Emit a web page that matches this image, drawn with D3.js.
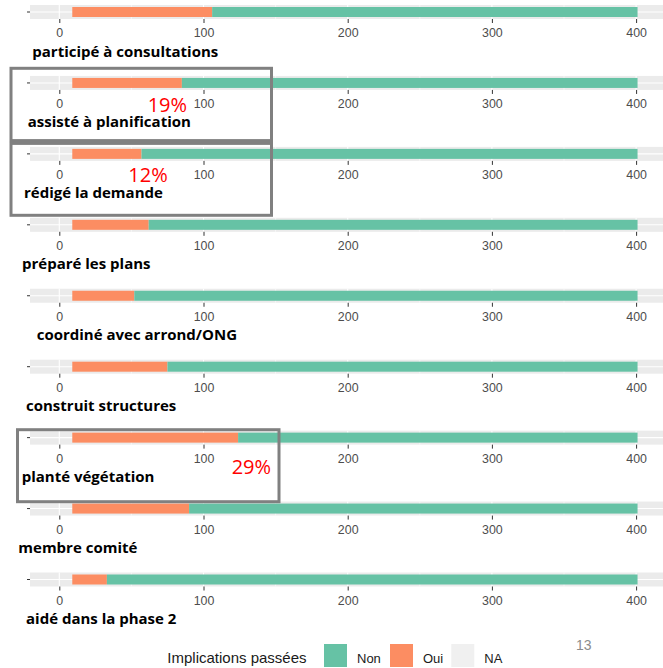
<!DOCTYPE html>
<html>
<head>
<meta charset="utf-8">
<script src="https://cdn.jsdelivr.net/npm/d3@7/dist/d3.min.js"></script>
<style>
  html, body { margin: 0; padding: 0; background: #fff; }
  svg { display: block; }
</style>
</head>
<body>
<svg id="chart" width="663" height="668"></svg>
<script>
// ---- data ----
const categories = [
  "participé à consultations",
  "assisté à planification",
  "rédigé la demande",
  "préparé les plans",
  "coordiné avec arrond/ONG",
  "construit structures",
  "planté végétation",
  "membre comité",
  "aidé dans la phase 2"
];
const naValues  = [9, 9, 9, 9, 9, 9, 9, 9, 9];
const ouiValues = [97, 76, 48, 53, 43, 66, 115, 81, 24];
const nonValues = [295, 316, 344, 339, 349, 326, 277, 311, 368];
const xTicks = [0, 100, 200, 300, 400];
const xMinor = [50, 150, 250, 350];
const legendTitle = "Implications passées";
const legendKeys = ["Non", "Oui", "NA"];
const annotationPanels = [1, 2, 6];
const annotationTexts = ["19%", "12%", "29%"];
const pageNumber = "13";

// ---- layout / style ----
const colors = { Non: "#66C2A5", Oui: "#FC8D62", NA: "#F0F0F0" };
const labelX = [32.3, 27.7, 24, 22, 36.7, 26, 21.7, 18.3, 26];
const annoPos = [[147.7, 112], [128.3, 181.7], [231.7, 474]];
const boxes = [[11, 68.3, 271.5, 140.6], [11, 143.4, 271.5, 215.3], [17.5, 429.7, 279, 501.7]];

const svg = d3.select("#chart");
const W = 663;

const x = d3.scaleLinear().domain([0, 400]).range([59.3, 636.1]);
const panelLeft = x(-20.3);

const yPanel = d3.scalePoint().domain(d3.range(categories.length)).range([12, 579.5]);

const rows = categories.map((c, i) => ({ cat: c, NA: naValues[i], Oui: ouiValues[i], Non: nonValues[i] }));
const stack = d3.stack().keys(["NA", "Oui", "Non"]);
const series = stack(rows);

const bandH = 14, barH = 10;

categories.forEach((cat, i) => {
  const cy = yPanel(i);
  const g = svg.append("g");
  g.append("rect")
    .attr("x", panelLeft).attr("y", cy - bandH / 2)
    .attr("width", W - panelLeft).attr("height", bandH)
    .attr("fill", "#EBEBEB");
  g.selectAll("line.minor").data(xMinor).enter().append("line")
    .attr("x1", d => x(d)).attr("x2", d => x(d))
    .attr("y1", cy - bandH / 2).attr("y2", cy + bandH / 2)
    .attr("stroke", "#fff").attr("stroke-width", 0.55);
  g.selectAll("line.major").data(xTicks).enter().append("line")
    .attr("x1", d => x(d)).attr("x2", d => x(d))
    .attr("y1", cy - bandH / 2).attr("y2", cy + bandH / 2)
    .attr("stroke", "#fff").attr("stroke-width", 1.1);
  g.append("line")
    .attr("x1", panelLeft).attr("x2", W)
    .attr("y1", cy).attr("y2", cy)
    .attr("stroke", "#fff").attr("stroke-width", 1.1);
  series.forEach(s => {
    const seg = s[i];
    g.append("rect")
      .attr("x", x(seg[0])).attr("width", x(seg[1]) - x(seg[0]))
      .attr("y", cy - barH / 2).attr("height", barH)
      .attr("fill", colors[s.key])
      .attr("fill-opacity", s.key === "NA" ? 0 : 1);
  });
  const ax = g.append("g")
    .attr("transform", `translate(0,${cy + bandH / 2})`)
    .call(d3.axisBottom(x).tickValues(xTicks).tickSize(4).tickPadding(5.5));
  ax.select(".domain").remove();
  ax.selectAll(".tick line").attr("stroke", "#333").attr("stroke-width", 1);
  ax.selectAll(".tick text")
    .attr("fill", "#4D4D4D")
    .style("font-family", "'Liberation Sans', Arial, sans-serif")
    .style("font-size", "12.4px");
  const yb = d3.scaleBand().domain(["-"]).range([cy - bandH / 2, cy + bandH / 2]);
  const ay = g.append("g")
    .attr("transform", `translate(${panelLeft},0)`)
    .call(d3.axisLeft(yb).tickSize(3).tickFormat(""));
  ay.select(".domain").remove();
  ay.selectAll(".tick line").attr("stroke", "#333").attr("stroke-width", 1);
  g.append("text")
    .attr("x", labelX[i]).attr("y", cy + 44.5)
    .attr("fill", "#000")
    .style("font-family", "'Open Sans', sans-serif")
    .style("font-weight", "700")
    .style("font-size", "15px")
    .text(cat);
});

boxes.forEach(b => {
  svg.append("rect")
    .attr("x", b[0]).attr("y", b[1])
    .attr("width", b[2] - b[0]).attr("height", b[3] - b[1])
    .attr("fill", "none").attr("stroke", "#808080").attr("stroke-width", 3);
});
annotationTexts.forEach((t, k) => {
  svg.append("text")
    .attr("x", annoPos[k][0]).attr("y", annoPos[k][1])
    .attr("fill", "#FF0000")
    .style("font-family", "'Open Sans', sans-serif")
    .style("font-size", "20px")
    .text(t);
});

svg.append("text")
  .attr("x", 576).attr("y", 649.5)
  .attr("fill", "#8C8C8C")
  .style("font-family", "'Liberation Sans', Arial, sans-serif")
  .style("font-size", "14px")
  .text(pageNumber);

const lg = svg.append("g");
lg.append("text")
  .attr("x", 167.3).attr("y", 663)
  .attr("fill", "#1A1A1A")
  .style("font-family", "'Liberation Sans', Arial, sans-serif")
  .style("font-size", "15px")
  .text(legendTitle);
const keyX = [324, 390, 451.3];
legendKeys.forEach((k, j) => {
  lg.append("rect")
    .attr("x", keyX[j]).attr("y", 644)
    .attr("width", 23).attr("height", 23)
    .attr("fill", colors[k]);
  lg.append("text")
    .attr("x", keyX[j] + 33).attr("y", 663)
    .attr("fill", "#1A1A1A")
    .style("font-family", "'Liberation Sans', Arial, sans-serif")
    .style("font-size", "13px")
    .text(k);
});
</script>
</body>
</html>
